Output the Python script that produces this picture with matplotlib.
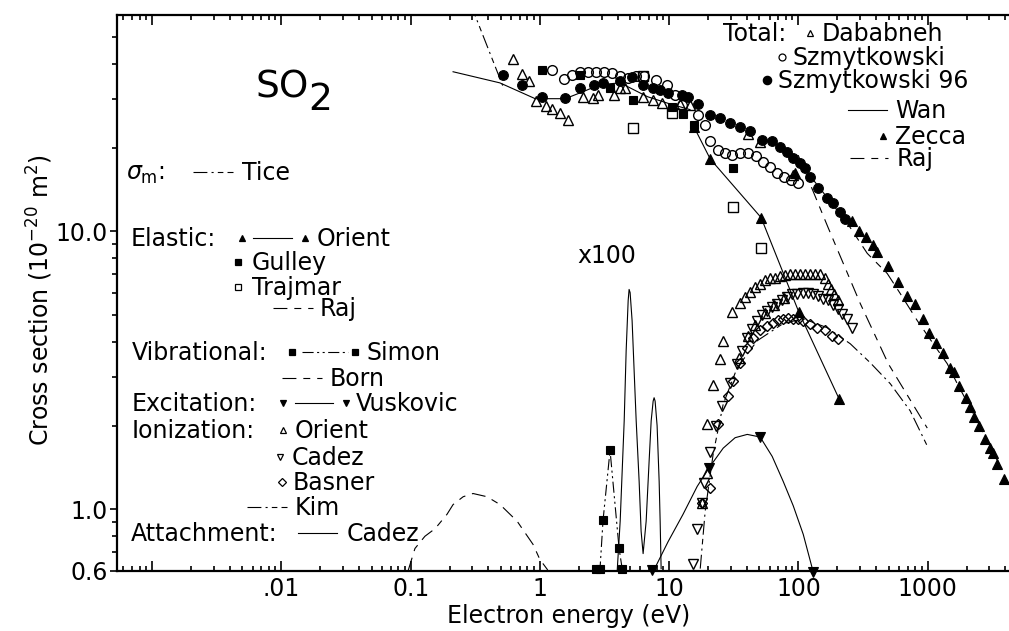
import matplotlib
matplotlib.use("Agg")
import matplotlib.pyplot as plt
from matplotlib.lines import Line2D
from matplotlib.ticker import FixedLocator, FixedFormatter, NullFormatter

# ---------------- data: electron energy (eV), cross section (1e-20 m^2) ----------------
# Total cross sections
dababneh_E = [0.62, 0.73, 0.82, 0.94, 1.12, 1.24, 1.43, 1.65, 2.16, 2.58, 2.82, 3.75, 4.18, 4.56,
              6.29, 7.52, 8.83, 12.2, 14.5, 40.8, 50.6, 91.2]
dababneh_sigma = [41.8, 36.9, 34.8, 29.4, 28.2, 27.5, 26.7, 25.2, 30.5, 30.2, 31.0, 31.0, 32.8, 32.8,
                  30.5, 29.7, 29.0, 28.6, 28.5, 22.4, 20.9, 15.9]

szmyt_E = [1.24, 1.54, 1.77, 2.05, 2.36, 2.72, 3.14, 3.62, 4.18, 4.82, 5.56, 6.41, 7.93, 9.66, 11.1,
           12.6, 16.8, 19.0, 20.8, 23.9, 27.1, 30.7, 35.5, 40.8, 47.1, 53.4, 60.5, 68.5, 77.6, 87.9, 99.6]
szmyt_sigma = [38.1, 35.4, 36.5, 37.5, 37.5, 37.5, 37.5, 37.2, 36.3, 35.7, 36.3, 36.3, 35.1, 33.7, 31.0,
               28.5, 26.3, 24.2, 21.1, 19.6, 19.1, 18.8, 19.1, 19.1, 18.7, 17.8, 17.0, 16.2, 15.7, 15.3, 14.9]

szmyt96_E = [0.52, 0.73, 1.04, 1.57, 2.05, 2.63, 3.09, 4.18, 5.17, 6.29, 7.52, 8.52, 9.83, 12.6, 14.0,
             16.8, 20.8, 24.8, 29.7, 35.5, 42.4, 52.4, 62.7, 72.3, 81.9, 91.2, 103, 113, 123, 142, 167,
             186, 211, 230]
szmyt96_sigma = [36.6, 33.6, 30.5, 30.2, 32.8, 33.7, 34.2, 34.8, 36.0, 33.6, 32.8, 32.3, 31.5, 31.0, 30.5,
                 28.7, 26.2, 25.6, 24.5, 23.7, 23.0, 21.3, 21.1, 20.1, 19.3, 18.4, 17.6, 16.9, 15.7, 14.3, 13.2,
                 12.6, 11.7, 11.1]

wan_E = [0.213, 0.49, 0.92, 1.57, 2.16, 2.92, 4.18, 6.8, 10.2, 14.5]
wan_sigma = [37.5, 34.2, 30.0, 30.0, 31.8, 33.7, 34.2, 30.5, 28.7, 27.4]

zecca_E = [94.5, 261, 296, 335, 379, 407, 496, 592, 695, 802, 925, 1029, 1166, 1321, 1496, 1607,
           1757, 1990, 2136, 2296, 2508, 2790, 3052, 3219, 3458, 3917]
zecca_sigma = [16.2, 10.9, 10.0, 9.51, 8.90, 8.40, 7.48, 6.55, 5.87, 5.50, 4.85, 4.32, 3.97, 3.66, 3.23, 3.12,
               2.78, 2.52, 2.33, 2.15, 1.99, 1.79, 1.66, 1.59, 1.45, 1.29]

raj_tot_E = [103, 239, 341, 487, 614, 832, 1105, 1418, 1695, 2421, 3219, 3779]
raj_tot_sigma = [17.6, 10.7, 8.33, 7.05, 5.97, 4.77, 3.94, 3.34, 2.83, 2.08, 1.58, 1.41]

# Momentum transfer
tice_E = [0.29, 0.52]
tice_sigma = [66.0, 33.1]

# Elastic
orient_el_E = [15.6, 20.8, 51.5, 101, 207]
orient_el_sigma = [23.7, 18.2, 11.2, 5.11, 2.49]

gulley_E = [1.04, 2.05, 3.49, 5.26, 10.5, 12.8, 15.6, 31.3]
gulley_sigma = [38.1, 36.6, 32.8, 29.7, 28.1, 26.4, 24.2, 16.9]

trajmar_E = [5.26, 6.29, 10.5, 31.3, 51.5]
trajmar_sigma = [23.5, 36.3, 26.7, 12.2, 8.69]

raj_el_E = [99.6, 170, 301, 496, 993]
raj_el_sigma = [18.8, 10.3, 5.50, 3.34, 1.96]

# Vibrational
simon_E = [2.72, 2.92, 3.08, 3.49, 4.10, 4.33]
simon_sigma = [0.612, 0.612, 0.912, 1.63, 0.723, 0.612]

born_E = [0.0955, 0.108, 0.129, 0.155, 0.191, 0.213, 0.255, 0.304, 0.390, 0.492, 0.667, 0.885, 1.0, 1.15]
born_sigma = [0.60, 0.723, 0.80, 0.853, 0.959, 1.04, 1.11, 1.14, 1.11, 1.04, 0.906, 0.748, 0.660, 0.605]

# Excitation
vusk_E = [7.39, 20.4, 50.6, 130]
vusk_sigma = [0.607, 1.41, 1.82, 0.597]
vusk_curve_E = [7.52, 9.83, 12.8, 16.5, 20.8, 26.2, 32.4, 40.2, 50.6, 62.7, 76.3, 91.2, 109, 130]
vusk_curve_sigma = [0.597, 0.766, 0.959, 1.21, 1.43, 1.66, 1.81, 1.86, 1.82, 1.55, 1.26, 1.03, 0.813, 0.597]

# Ionization
orient_ion_E = [18.0, 19.7, 19.7, 21.9, 24.8, 26.2, 30.7, 35.5, 38.7, 42.4, 46.3, 50.6, 55.3, 60.5,
                66.1, 72.3, 79.0, 86.4, 94.4, 103, 113, 123, 135, 148, 161, 170, 179, 189, 203]
orient_ion_sigma = [1.05, 1.35, 2.03, 2.80, 3.48, 4.04, 5.11, 5.54, 5.82, 6.07, 6.28, 6.49, 6.66, 6.77,
                    6.82, 6.88, 6.94, 7.00, 7.05, 7.05, 7.05, 7.05, 7.05, 7.00, 6.82, 6.49, 6.18, 5.93, 5.64]

orient_ion_b_E = [35.0, 41.0, 46.0, 55.0, 65.0, 78.0]
orient_ion_b_sigma = [3.5, 4.2, 4.6, 5.1, 5.45, 5.75]

cadez_ion_E = [15.3, 16.5, 18.0, 18.7, 20.8, 23.1, 25.7, 29.7, 33.6, 36.7, 40.2, 43.9, 48.0, 52.4, 57.3,
               62.7, 68.5, 74.9, 81.9, 89.5, 98.0, 109, 119, 130, 142, 156, 170, 186, 203, 218, 239, 261]
cadez_ion_sigma = [0.638, 0.847, 1.05, 1.24, 1.61, 2.0, 2.35, 2.85, 3.34, 3.72, 4.14, 4.46, 4.77, 5.01, 5.19,
                   5.36, 5.50, 5.68, 5.82, 5.93, 5.97, 6.02, 6.02, 5.97, 5.87, 5.73, 5.64, 5.45, 5.27, 5.06,
                   4.85, 4.50]

basner_E = [18.0, 20.8, 23.9, 28.6, 31.3, 35.5, 40.2, 44.7, 50.6, 57.3, 63.8, 70.0, 76.3, 83.0, 91.2,
            100, 109, 123, 140, 161, 183, 203]
basner_sigma = [1.05, 1.19, 2.03, 2.56, 2.90, 3.37, 3.81, 4.14, 4.40, 4.58, 4.69, 4.78, 4.85, 4.86, 4.85,
                4.82, 4.77, 4.66, 4.50, 4.40, 4.21, 4.11]

kim_E = [17.4, 19.0, 21.9, 26.2, 33.6, 48.0, 76.3, 109, 167, 252, 359, 514, 733, 993]
kim_sigma = [0.612, 0.984, 1.58, 2.39, 3.23, 4.04, 4.66, 4.85, 4.50, 3.94, 3.37, 2.83, 2.26, 1.69]

# Dissociative attachment (x100)
attach_E = [3.96, 4.18, 4.49, 4.65, 4.82, 4.90, 4.99, 5.17, 5.36, 5.56, 5.86, 6.07, 6.29, 6.64, 7.00,
            7.26, 7.52, 7.65, 7.79, 8.07, 8.37, 8.52, 8.67]
attach_sigma = [0.597, 0.906, 2.08, 3.72, 5.64, 6.18, 6.02, 4.77, 3.15, 2.08, 1.26, 0.834, 0.693, 0.906,
                1.49, 2.08, 2.45, 2.52, 2.45, 2.0, 1.26, 0.906, 0.612]

# Axis ticks
x_major = [1e-3, 1e-2, 1e-1, 1, 10, 100, 1000]
x_major_labels = ['', '.01', '0.1', '1', '10', '100', '1000']
y_major = [0.6, 1.0, 10.0]
y_major_labels = ['0.6', '1.0', '10.0']

# ---------------- figure ----------------
W, H = 1009, 631
plt.rcParams['font.family'] = ['DejaVu Sans']
plt.rcParams['mathtext.fontset'] = 'dejavusans'
plt.rcParams['lines.scale_dashes'] = False
FS = 17
LW = 0.8

RAJ = (10, 5, 5, 5)
DASHDOT = (10, 3, 1.5, 3, 4, 3)
DASHDOTDOT = (8, 2.5, 1.5, 2.5, 1.5, 2.5)

fig = plt.figure(figsize=(W / 100, H / 100), dpi=100)
ax = fig.add_axes([117 / W, 1 - 571 / H, (1018 - 117) / W, (571 - 15) / H])
ax.set_xscale('log')
ax.set_yscale('log')
ax.set_xlim(5.35e-4, 5000)
ax.set_ylim(0.6, 60)

k = dict(color='black')
openm = dict(mfc='none', mec='black', mew=1.0, ls='none', clip_on=False)
fillm = dict(mfc='black', mec='black', mew=0.8, ls='none', clip_on=False)

# curves
ax.plot(tice_E, tice_sigma, lw=LW, dashes=DASHDOT, **k)
ax.plot(wan_E, wan_sigma, lw=LW, **k)
ax.plot(raj_tot_E, raj_tot_sigma, lw=LW, dashes=RAJ, **k)
ax.plot(raj_el_E, raj_el_sigma, lw=LW, dashes=RAJ, **k)
ax.plot(orient_el_E, orient_el_sigma, lw=LW, **k)
ax.plot(simon_E, simon_sigma, lw=LW, dashes=DASHDOTDOT, **k)
ax.plot(born_E, born_sigma, lw=LW, dashes=RAJ, **k)
ax.plot(vusk_curve_E, vusk_curve_sigma, lw=LW, **k)
ax.plot(kim_E, kim_sigma, lw=LW, dashes=DASHDOT, **k)
ax.plot(attach_E, attach_sigma, lw=LW, **k)

# symbols
ax.plot(dababneh_E, dababneh_sigma, marker='^', ms=6.5, **openm)
ax.plot(szmyt_E, szmyt_sigma, marker='o', ms=7, **openm)
ax.plot(szmyt96_E, szmyt96_sigma, marker='o', ms=7, **fillm)
ax.plot(zecca_E, zecca_sigma, marker='^', ms=7, **fillm)
ax.plot(orient_el_E, orient_el_sigma, marker='^', ms=7, **fillm)
ax.plot(gulley_E, gulley_sigma, marker='s', ms=6, **fillm)
ax.plot(trajmar_E, trajmar_sigma, marker='s', ms=6.5, **openm)
ax.plot(simon_E, simon_sigma, marker='s', ms=6, **fillm)
ax.plot(vusk_E, vusk_sigma, marker='v', ms=7, **fillm)
ax.plot(orient_ion_E, orient_ion_sigma, marker='^', ms=6.5, **openm)
ax.plot(orient_ion_b_E, orient_ion_b_sigma, marker='^', ms=6.5, **openm)
ax.plot(cadez_ion_E, cadez_ion_sigma, marker='v', ms=6.5, **openm)
ax.plot(basner_E, basner_sigma, marker='D', ms=5, **openm)

# axes styling
for side in ('left', 'bottom', 'top'):
    ax.spines[side].set_linewidth(1.6)
ax.spines['right'].set_visible(False)

x_minor = [m * 10.0 ** e for e in range(-4, 4) for m in range(2, 10)]
x_minor = [v for v in x_minor if 5.35e-4 < v < 5000]
ax.xaxis.set_major_locator(FixedLocator(x_major))
ax.xaxis.set_major_formatter(FixedFormatter(x_major_labels))
ax.xaxis.set_minor_locator(FixedLocator(x_minor))
ax.xaxis.set_minor_formatter(NullFormatter())

y_minor = [0.7, 0.8, 0.9] + [float(m) for m in range(2, 10)] + [20.0, 30.0, 40.0, 50.0]
ax.yaxis.set_major_locator(FixedLocator(y_major))
ax.yaxis.set_major_formatter(FixedFormatter(y_major_labels))
ax.yaxis.set_minor_locator(FixedLocator(y_minor))
ax.yaxis.set_minor_formatter(NullFormatter())

ax.tick_params(axis='x', which='both', direction='in', top=True, bottom=True,
               labelsize=FS, pad=4, width=1.2)
ax.tick_params(axis='x', which='major', length=7)
ax.tick_params(axis='x', which='minor', length=3.6)
ax.tick_params(axis='y', which='both', direction='out', left=True, right=False,
               labelsize=FS, pad=1.5, width=1.2)
ax.tick_params(axis='y', which='major', length=5)
ax.tick_params(axis='y', which='minor', length=3.6)

fig.text(569 / W, 1 - 623 / H, 'Electron energy (eV)', fontsize=FS, ha='center', va='baseline')
fig.text(40 / W, 1 - 300 / H, 'Cross section (10$^{-20}$ m$^{2}$)', fontsize=FS,
         rotation=90, ha='center', va='center')


# ---------------- annotation / key ----------------
def ptxt(x, y, s, size=FS):
    fig.text(x / W, 1 - y / H, s, fontsize=size, ha='left', va='baseline')


def pline(x1, x2, y, dashes=None):
    ln = Line2D([x1 / W, x2 / W], [1 - y / H, 1 - y / H], transform=fig.transFigure,
                color='black', lw=LW)
    if dashes is not None:
        ln.set_dashes(dashes)
    fig.add_artist(ln)


def pmark(x, y, marker, filled, ms=5):
    fig.add_artist(Line2D([x / W], [1 - y / H], transform=fig.transFigure, ls='none',
                          marker=marker, ms=ms, mec='black',
                          mfc='black' if filled else 'none', mew=0.9))


ptxt(255, 98, 'SO', size=27)
ptxt(308, 110, '2', size=27)
ptxt(577, 263, 'x100')

ptxt(126, 180, r'$\sigma_{\mathrm{m}}$:')
pline(193, 233, 172, DASHDOT)
ptxt(242, 180, 'Tice')

ptxt(131, 246, 'Elastic:')
pmark(242, 238, '^', True)
pline(253, 292, 238)
pmark(305, 238, '^', True)
ptxt(317, 246, 'Orient')
pmark(238, 262, 's', True)
ptxt(252, 270, 'Gulley')
pmark(238, 287, 's', False)
ptxt(252, 295, 'Trajmar')
pline(273, 313, 308, RAJ)
ptxt(320, 316, 'Raj')

ptxt(132, 360, 'Vibrational:')
pmark(292, 352, 's', True)
pline(302, 348, 352, DASHDOTDOT)
pmark(355, 352, 's', True)
ptxt(367, 360, 'Simon')
pline(282, 322, 378, RAJ)
ptxt(330, 386, 'Born')

ptxt(132, 411, 'Excitation:')
pmark(283, 403, 'v', True)
pline(295, 333, 403)
pmark(346, 403, 'v', True)
ptxt(356, 411, 'Vuskovic')

ptxt(132, 438, 'Ionization:')
pmark(283, 430, '^', False)
ptxt(295, 438, 'Orient')
pmark(280, 457, 'v', False)
ptxt(292, 465, 'Cadez')
pmark(282, 482, 'D', False, ms=4)
ptxt(293, 490, 'Basner')
pline(247, 287, 507, DASHDOT)
ptxt(295, 515, 'Kim')

ptxt(131, 541, 'Attachment:')
pline(298, 337, 533)
ptxt(347, 541, 'Cadez')

ptxt(723, 41, 'Total:')
pmark(810, 33, '^', False)
ptxt(822, 41, 'Dababneh')
pmark(782, 57, 'o', False)
ptxt(793, 65, 'Szmytkowski')
pmark(767, 80, 'o', True, ms=6)
ptxt(778, 88, 'Szmytkowski 96')
pline(848, 887, 110)
ptxt(895, 118, 'Wan')
pmark(883, 136, '^', True)
ptxt(895, 144, 'Zecca')
pline(850, 888, 158, RAJ)
ptxt(897, 166, 'Raj')

fig.savefig('out.png', dpi=100)
